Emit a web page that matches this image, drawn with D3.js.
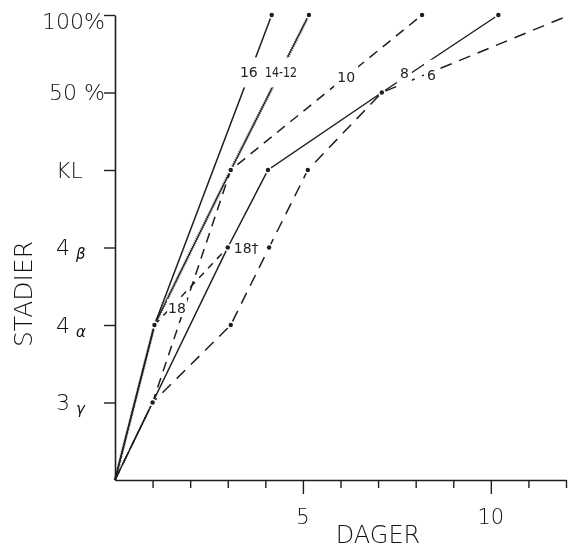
<!DOCTYPE html>
<html>
<head>
<meta charset="utf-8">
<script src="https://cdn.jsdelivr.net/npm/d3@7"></script>
<style>
  html, body { margin: 0; padding: 0; background: #fff; }
  svg { display: block; filter: grayscale(1); }
  text { font-family: "DejaVu Sans", "Noto Sans", sans-serif; font-weight: 200; fill: #111; }
  text.curve-label { font-weight: 400; fill: #222; }
</style>
</head>
<body>
<svg id="chart" width="570" height="551"></svg>
<script>
// Development stage reached against days, one curve per rearing temperature (°C)

// axis values
const dayTicks = [1, 2, 3, 4, 5, 6, 7, 8, 9, 10, 11, 12];
const dayLabels = [5, 10];
const stageLevels = [1, 2, 3, 4, 5, 6];
const stageNames = ["3", "4", "4", "KL", "50 %", "100%"];
const stageSubs = ["γ", "α", "β", "", "", ""];

// [day, stage level] for each temperature
const temp16 = [[0, 0], [1.05, 2], [4.17, 6]];
const temp14_12 = [[0, 0], [1.05, 2], [3.08, 4], [5.16, 6]];
const temp10 = [[0, 0], [1.0, 1], [3.08, 4], [8.17, 6]];
const temp8 = [[0, 0], [1.0, 1], [3.0, 3], [4.07, 4], [7.1, 5], [10.2, 6]];
const temp6 = [[0, 0], [1.0, 1], [3.08, 2], [4.1, 3], [5.13, 4], [7.1, 5], [12.1, 6]];
const temp18 = [[0, 0], [1.05, 2], [3.0, 3]];

const seriesNames = ["16", "14-12", "10", "8", "6", "18"];
const seriesValues = [temp16, temp14_12, temp10, temp8, temp6, temp18];

// label anchors in data units [day, level]
const labelAnchors = {
  "16": [3.56, 5.26],
  "14-12": [4.42, 5.26],
  "10": [6.15, 5.2],
  "8": [7.7, 5.25],
  "6": [8.42, 5.23],
  "18": [1.65, 2.22]
};
const deathLabel = { text: "18†", at: [3.16, 3.0] };

const lineStyles = {
  "16": { dash: null, hatched: false },
  "14-12": { dash: null, hatched: true },
  "10": { dash: "10,7", hatched: false },
  "8": { dash: null, hatched: false },
  "6": { dash: "12,8", hatched: false },
  "18": { dash: "7,6", hatched: false }
};

const ink = "#1e1e1e";
const svg = d3.select("#chart");

const x = d3.scaleLinear().domain([0, 12]).range([115, 566]);
const y = d3.scaleLinear().domain([0, 6]).range([480, 15]);

// x axis
const xAxis = svg.append("g")
  .attr("transform", `translate(0,${y(0)})`)
  .call(d3.axisBottom(x).tickValues(dayTicks).tickSize(8).tickSizeOuter(0).tickFormat(""));
xAxis.select(".domain").attr("stroke", ink).attr("stroke-width", 1.6);
xAxis.selectAll(".tick line")
  .attr("stroke", ink).attr("stroke-width", 1.4)
  .attr("y2", d => dayLabels.includes(d) ? 14 : 8);

svg.append("g").selectAll("text")
  .data(dayLabels).join("text")
  .attr("x", d => x(d))
  .attr("y", 524)
  .attr("text-anchor", "middle")
  .attr("font-size", 21)
  .text(d => d);

svg.append("text")
  .attr("x", 378).attr("y", 543)
  .attr("text-anchor", "middle")
  .attr("font-size", 24)
  .text("DAGER");

// y axis
const yAxis = svg.append("g")
  .attr("transform", `translate(${x(0)},0)`)
  .call(d3.axisLeft(y).tickValues(stageLevels).tickSize(11).tickSizeOuter(0).tickFormat(""));
yAxis.select(".domain").attr("stroke", ink).attr("stroke-width", 1.6);
yAxis.selectAll(".tick line").attr("stroke", ink).attr("stroke-width", 1.4);

const stageLab = svg.append("g").selectAll("text")
  .data(stageLevels).join("text")
  .attr("font-size", 22)
  .attr("dy", (d, i) => i === stageLevels.length - 1 ? "0.62em" : "0.36em")
  .attr("y", d => y(d))
  .attr("x", (d, i) => stageNames[i].includes("%") ? x(0) - 10 : 56)
  .attr("text-anchor", (d, i) => stageNames[i].includes("%") ? "end" : "start");
stageLab.append("tspan").text((d, i) => stageNames[i]);
stageLab.append("tspan")
  .attr("font-size", 15)
  .attr("font-style", "italic")
  .attr("dx", 6)
  .attr("dy", 4)
  .text((d, i) => stageSubs[i]);

svg.append("text")
  .attr("transform", "translate(32,294) rotate(-90)")
  .attr("text-anchor", "middle")
  .attr("font-size", 25)
  .text("STADIER");

// curves
const line = d3.line().x(d => x(d[0])).y(d => y(d[1]));
const curves = svg.append("g").attr("fill", "none").attr("stroke", ink);

seriesNames.forEach((name, i) => {
  const st = lineStyles[name];
  const pts = name === "18" ? seriesValues[i].slice(1) : seriesValues[i];
  if (st.hatched) {
    curves.append("path").attr("d", line(pts))
      .attr("stroke-width", 3).attr("stroke-dasharray", "1.2,1").attr("opacity", 0.6);
    curves.append("path").attr("d", line(pts)).attr("stroke-width", 1.2);
  } else {
    curves.append("path").attr("d", line(pts))
      .attr("stroke-width", 1.5)
      .attr("stroke-dasharray", st.dash);
  }
});

// observation dots
const seen = new Set();
const dots = [];
seriesValues.forEach(s => s.forEach(p => {
  const key = p.join(",");
  if ((p[0] > 0 || p[1] > 0) && p[0] <= 12 && !seen.has(key)) { seen.add(key); dots.push(p); }
}));
svg.append("g").selectAll("circle")
  .data(dots).join("circle")
  .attr("cx", d => x(d[0])).attr("cy", d => y(d[1]))
  .attr("r", 2.2)
  .attr("fill", ink)
  .attr("stroke", "#fff").attr("stroke-width", 3)
  .attr("paint-order", "stroke");

// curve labels sit on the lines, breaking them
const labelG = svg.append("g");
seriesNames.forEach(name => {
  const [dx, lv] = labelAnchors[name];
  const g = labelG.append("g");
  const t = g.append("text")
    .attr("class", "curve-label")
    .attr("x", x(dx)).attr("y", y(lv))
    .attr("dy", "0.36em")
    .attr("text-anchor", "middle")
    .attr("font-size", 14)
    .text(name);
  if (name === "14-12") t.attr("textLength", 32).attr("lengthAdjust", "spacingAndGlyphs");
  const b = t.node().getBBox();
  const padX = name === "18" ? 1 : 3, padY = name === "18" ? 1 : 7;
  g.insert("rect", "text")
    .attr("x", b.x - padX).attr("y", b.y - padY)
    .attr("width", b.width + 2 * padX).attr("height", b.height + 2 * padY)
    .attr("fill", "#fff");
});

labelG.append("text")
  .attr("class", "curve-label")
  .attr("x", x(deathLabel.at[0])).attr("y", y(deathLabel.at[1]))
  .attr("dy", "0.4em")
  .attr("font-size", 14)
  .text(deathLabel.text);
</script>
</body>
</html>
